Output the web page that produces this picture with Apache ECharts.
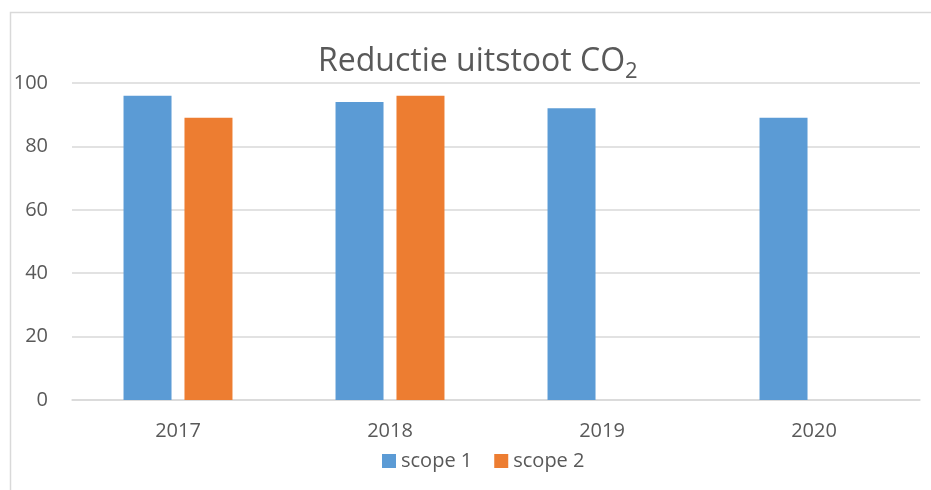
<!DOCTYPE html>
<html>
<head>
<meta charset="utf-8">
<script src="https://cdn.jsdelivr.net/npm/echarts@6/dist/echarts.min.js"></script>
<style>html,body{margin:0;padding:0;background:#fff}#c{width:931px;height:490px}</style>
</head>
<body>
<div id="c"></div>
<script>
const categories = ['2017', '2018', '2019', '2020'];
const scope1 = [96, 94, 92, 89];
const scope2 = [89, 96, null, null];
const yTicks = [0, 20, 40, 60, 80, 100];

const FONT = 'Open Sans';
const TXT = '#595959';
const chart = echarts.init(document.getElementById('c'), null, {renderer: 'canvas'});
chart.setOption({
  animation: false,
  backgroundColor: '#fff',
  textStyle: {fontFamily: FONT},
  graphic: [{
    type: 'rect', left: 8, top: 10, z: 100,
    shape: {width: 1000, height: 600},
    style: {fill: 'none', stroke: '#D9D9D9', lineWidth: 1.5}
  }],
  title: {
    text: '{a|Reductie uitstoot CO}{b|2}',
    left: 313, top: 36,
    textStyle: {
      fontWeight: 'normal',
      rich: {
        a: {fontFamily: FONT, fontSize: 32, fontWeight: 'normal', color: TXT, lineHeight: 42},
        b: {fontFamily: FONT, fontSize: 22, fontWeight: 'normal', color: TXT, verticalAlign: 'bottom', lineHeight: 42, padding: [14, 0, 0, 0]}
      }
    }
  },
  legend: {
    bottom: 14, left: 377,
    itemWidth: 14, itemHeight: 14, itemGap: 22,
    icon: 'rect',
    textStyle: {fontFamily: FONT, fontSize: 20, color: TXT},
    data: ['scope 1', 'scope 2']
  },
  grid: {left: 72, right: 11, top: 83, bottom: 90, containLabel: false},
  xAxis: {
    type: 'category', data: categories,
    axisLine: {lineStyle: {color: '#D9D9D9', width: 1.5}},
    axisTick: {show: false},
    axisLabel: {fontFamily: FONT, fontSize: 20, color: TXT, margin: 21}
  },
  yAxis: {
    type: 'value', min: yTicks[0], max: yTicks[yTicks.length - 1], interval: 20,
    axisLine: {show: false}, axisTick: {show: false},
    splitLine: {lineStyle: {color: '#D9D9D9', width: 1.5}},
    axisLabel: {fontFamily: FONT, fontSize: 20, color: TXT, margin: 24}
  },
  series: [
    {name: 'scope 1', type: 'bar', data: scope1, barWidth: 48, barGap: '27%', itemStyle: {color: '#5B9BD5'}},
    {name: 'scope 2', type: 'bar', data: scope2, barWidth: 48, barGap: '27%', itemStyle: {color: '#ED7D31'}}
  ]
});
</script>
</body>
</html>
